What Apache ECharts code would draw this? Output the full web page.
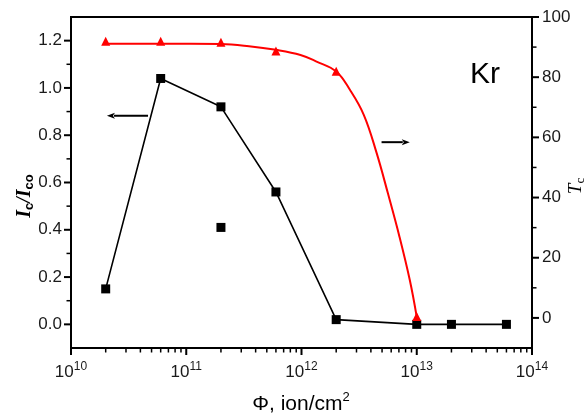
<!DOCTYPE html>
<html>
<head>
<meta charset="utf-8">
<script src="https://cdn.jsdelivr.net/npm/echarts@6/dist/echarts.min.js"></script>
<style>
  html, body { margin: 0; padding: 0; background: #ffffff; }
  #chart { width: 584px; height: 414px; }
</style>
</head>
<body>
<div id="chart"></div>
<script>
// Critical-current ratio Ic/Ico versus Kr ion fluence (left axis)
const ratioFluence = [2e10, 6e10, 2e11, 6e11, 2e12, 1e13, 2e13, 6e13];
const ratioValues  = [0.15, 1.04, 0.92, 0.56, 0.02, 0.0, 0.0, 0.0];
// separate measurement at 2e11, not joined to the line
const extraFluence = [2e11];
const extraValues  = [0.41];

// Critical temperature Tc versus fluence (right axis)
const tcFluence = [2e10, 6e10, 2e11, 6e11, 2e12, 1e13];
const tcValues  = [91.9, 91.9, 91.6, 88.7, 82.0, 0.5];

// fitted Tc curve
const fitFluence = [2.0e10, 6.0e10, 2.0e11, 3.5e11, 6.0e11, 9.8e11, 1.35e12, 2.0e12,
                    2.63e12, 3.47e12, 4.47e12, 5.62e12, 7.08e12, 8.71e12, 1.0e13];
const fitValues  = [91.1, 91.1, 91.0, 90.3, 89.1, 87.4, 85.2, 81.9,
                    75.8, 67.5, 55.0, 41.4, 27.0, 12.5, 0.3];

// direction arrows: [fluence from, fluence to, level]
const leftArrow  = [4.66e10, 2.05e10, 0.882];
const rightArrow = [4.95e12, 8.7e12, 58.4];

// axis ticks
const leftTicks   = [0, 0.2, 0.4, 0.6, 0.8, 1.0, 1.2];
const leftMinor   = [0.1, 0.3, 0.5, 0.7, 0.9, 1.1];
const rightTicks  = [0, 20, 40, 60, 80, 100];
const rightMinor  = [10, 30, 50, 70, 90];
const decadeTicks = [1e10, 1e11, 1e12, 1e13, 1e14];

const minorDecade = [];
decadeTicks.slice(0, -1).forEach(d => {
  for (let k = 2; k <= 9; k++) minorDecade.push(k * d);
});

const pairs = (xs, ys) => xs.map((x, i) => [x, ys[i]]);

const FONT = 'Liberation Sans, Arial, sans-serif';
const SERIF = 'Liberation Serif, Times New Roman, serif';
const labelColor = '#1a1a1a';

const chart = echarts.init(document.getElementById('chart'), null, { renderer: 'canvas' });

const axisLineStyle = { color: '#000', width: 2 };

const texts = [
  {
    type: 'text', left: 470, top: 60,
    style: { text: 'Kr', fontFamily: FONT, fontSize: 30, fill: '#000' }
  },
  {
    type: 'text', x: 25, y: 196, rotation: Math.PI / 2,
    style: {
      text: '{i|I}{s|c}{i|/I}{s|co}',
      align: 'center', verticalAlign: 'middle',
      rich: {
        i: { fontFamily: SERIF, fontStyle: 'italic', fontWeight: 'bold', fontSize: 20, fill: '#000' },
        s: { fontFamily: FONT, fontWeight: 'bold', fontSize: 13, fill: '#000', padding: [9, 0, 0, 0] }
      }
    }
  },
  {
    type: 'text', x: 576, y: 186, rotation: Math.PI / 2,
    style: {
      text: '{i|T}{s|c}',
      align: 'center', verticalAlign: 'middle',
      rich: {
        i: { fontFamily: SERIF, fontStyle: 'italic', fontSize: 19, fill: '#000' },
        s: { fontFamily: SERIF, fontSize: 13, fill: '#000', padding: [9, 0, 0, 0] }
      }
    }
  },
  {
    type: 'text', x: 301, y: 401,
    style: {
      text: '{t|Φ, ion/cm}{p|2}',
      align: 'center', verticalAlign: 'middle',
      rich: {
        t: { fontFamily: FONT, fontSize: 21, fill: '#000', padding: [6, 0, 0, 0] },
        p: { fontFamily: FONT, fontSize: 13, fill: '#000', padding: [0, 0, 8, 0] }
      }
    }
  }
];

chart.setOption({
  animation: false,
  backgroundColor: '#ffffff',
  grid: {
    left: 71, right: 52, top: 17, bottom: 66,
    show: true, borderColor: '#000', borderWidth: 2, backgroundColor: 'transparent'
  },
  xAxis: [
    {
      type: 'log', logBase: 10, min: 1e10, max: 1e14, position: 'bottom',
      axisLine: { show: true, onZero: false, lineStyle: axisLineStyle },
      axisTick: { show: false },
      minorTick: { show: false },
      splitLine: { show: false },
      axisLabel: {
        margin: 10,
        showMinLabel: true, showMaxLabel: true,
        formatter: v => '{b|10}{s|' + Math.round(Math.log10(v)) + '}',
        rich: {
          b: { fontFamily: FONT, fontSize: 17, color: labelColor, padding: [6, 0, 0, 0] },
          s: { fontFamily: FONT, fontSize: 12, color: labelColor, padding: [0, 0, 6, 0] }
        }
      }
    }
  ],
  yAxis: [
    {
      type: 'value', position: 'left', min: -0.1, max: 1.3,
      axisLine: { show: true, onZero: false, lineStyle: axisLineStyle },
      axisTick: { show: false },
      axisLabel: {
        customValues: leftTicks, margin: 9,
        fontFamily: FONT, fontSize: 17, color: labelColor,
        formatter: v => v.toFixed(1)
      },
      splitLine: { show: false }
    },
    {
      type: 'value', position: 'right', min: -10, max: 100,
      axisLine: { show: true, onZero: false, lineStyle: axisLineStyle },
      axisTick: { show: false },
      axisLabel: {
        customValues: rightTicks, margin: 10,
        fontFamily: FONT, fontSize: 17, color: labelColor
      },
      splitLine: { show: false }
    }
  ],
  series: [
    {
      name: 'Ic/Ico', type: 'line', xAxisIndex: 0, yAxisIndex: 0,
      data: pairs(ratioFluence, ratioValues),
      symbol: 'rect', symbolSize: 9,
      itemStyle: { color: '#000', opacity: 1 },
      lineStyle: { color: '#000', width: 1.6 },
      z: 3
    },
    {
      name: 'Ic/Ico extra', type: 'scatter', xAxisIndex: 0, yAxisIndex: 0,
      data: pairs(extraFluence, extraValues),
      symbol: 'rect', symbolSize: 9,
      itemStyle: { color: '#000', opacity: 1 },
      z: 3
    },
    {
      name: 'Tc fit', type: 'line', xAxisIndex: 0, yAxisIndex: 1,
      data: pairs(fitFluence, fitValues),
      smooth: 0.4,
      showSymbol: false, symbol: 'none',
      lineStyle: { color: '#ff0000', width: 2 },
      z: 2
    },
    {
      name: 'Tc', type: 'scatter', xAxisIndex: 0, yAxisIndex: 1,
      data: pairs(tcFluence, tcValues),
      symbol: 'triangle', symbolSize: 9,
      itemStyle: { color: '#ff0000', opacity: 1 },
      z: 4
    }
  ],
  graphic: texts
});

// pixel helpers that go through the chart's own axes
const px = v => chart.convertToPixel({ xAxisIndex: 0 }, v);
const pyL = v => chart.convertToPixel({ yAxisIndex: 0 }, v);
const pyR = v => chart.convertToPixel({ yAxisIndex: 1 }, v);

// outward tick marks: long at labelled values, short in between
function tickMarks() {
  const left = px(1e10), right = px(1e14), bottom = pyL(-0.1);
  const major = { len: 6, style: { stroke: '#000', lineWidth: 2 } };
  const minor = { len: 3.5, style: { stroke: '#000', lineWidth: 1.5 } };
  const els = [];
  const add = (shape, style) => els.push({ type: 'line', silent: true, z: 100, shape, style });
  const xTicks = (vals, t) => vals.forEach(v => {
    const x = px(v);
    add({ x1: x, y1: bottom, x2: x, y2: bottom + 1 + t.len }, t.style);
  });
  const yTicks = (vals, toY, x0, dir, t) => vals.forEach(v => {
    const y = toY(v);
    add({ x1: x0, y1: y, x2: x0 + dir * (1 + t.len), y2: y }, t.style);
  });
  xTicks(decadeTicks, major);
  xTicks(minorDecade, minor);
  yTicks(leftTicks, pyL, left, -1, major);
  yTicks(leftMinor, pyL, left, -1, minor);
  yTicks(rightTicks, pyR, right, 1, major);
  yTicks(rightMinor, pyR, right, 1, minor);
  return els;
}

// arrow annotations pointing at each curve's axis
function arrowShapes(toPixelY, spec) {
  const x0 = px(spec[0]), x1 = px(spec[1]), y = toPixelY(spec[2]);
  const dir = Math.sign(x1 - x0);
  const head = 8, half = 3;
  return [
    {
      type: 'line', silent: true,
      shape: { x1: x0, y1: y, x2: x1 - dir * (head - 1), y2: y },
      style: { stroke: '#000', lineWidth: 2 }
    },
    {
      type: 'polygon', silent: true,
      shape: { points: [[x1, y], [x1 - dir * head, y - half], [x1 - dir * (head - 2), y], [x1 - dir * head, y + half]] },
      style: { fill: '#000' }
    }
  ];
}

chart.setOption({
  graphic: texts.concat(
    tickMarks(),
    arrowShapes(pyL, leftArrow),
    arrowShapes(pyR, rightArrow)
  )
});
</script>
</body>
</html>
